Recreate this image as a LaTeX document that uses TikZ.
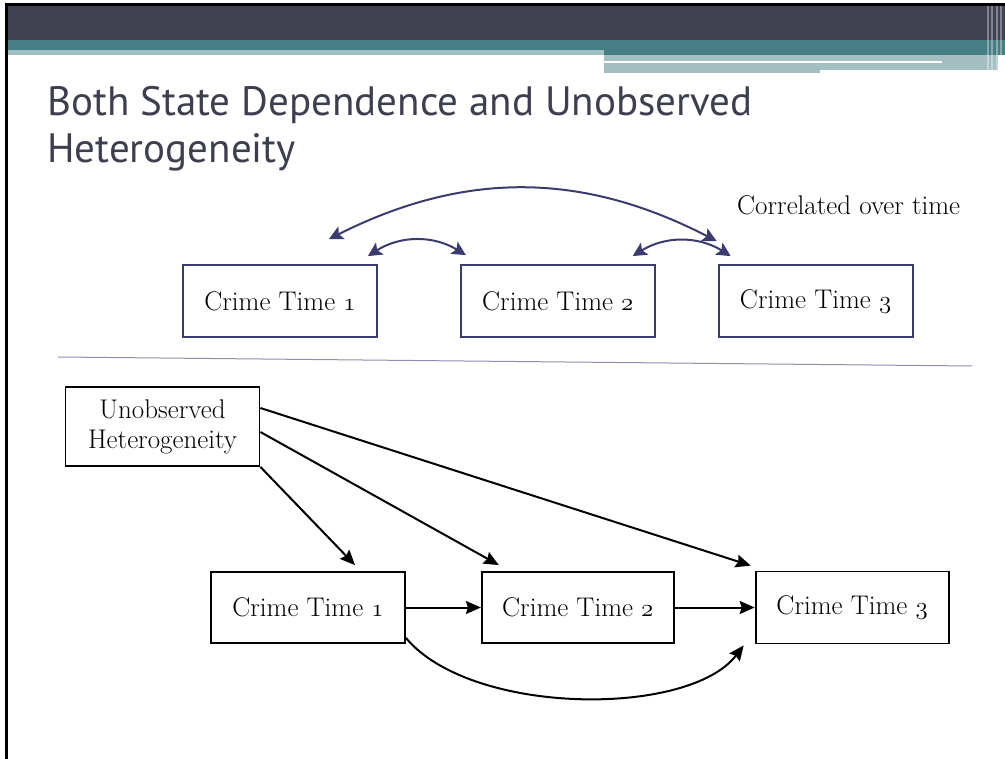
\documentclass[tikz,border=0pt]{standalone}
\usepackage{fontspec}
\newfontfamily\titlefont{PT Sans}
\usetikzlibrary{arrows.meta,positioning}
\definecolor{bandslate}{HTML}{414152}
\definecolor{bandteal}{HTML}{457E84}
\definecolor{bandlight}{HTML}{A3BFC2}
\definecolor{titleslate}{HTML}{3D3F4F}
\definecolor{navy}{HTML}{3B3B6E}
\definecolor{rulelav}{HTML}{8C8CB4}
\newcommand{\osn}[1]{{\usefont{OML}{cmm}{m}{it}#1}}
\tikzset{
  crimebox/.style={draw, line width=1.8pt, minimum width=194pt, minimum height=72pt,
    inner sep=0pt, font=\fontsize{27}{30}\selectfont},
  topbox/.style={crimebox, draw=navy},
  tiearrow/.style={navy, line width=2pt, >={Stealth[length=14pt,width=14pt,inset=3pt]}, <->},
  causearrow/.style={line width=2pt, >={Stealth[length=15pt,width=13pt,inset=2pt]}, ->}
}
\begin{document}
\begin{tikzpicture}[x=1pt,y=-1pt]
\useasboundingbox (0,0) rectangle (1005,759);
% slide header
\fill[bandslate] (6,6) rectangle (1005,40);
\fill[bandteal] (6,40) rectangle (1005,55);
\fill[bandlight] (6,50) rectangle (604,55);
\fill[bandlight] (604,55) rectangle (820,73);
\fill[bandlight] (820,55) rectangle (998,70);
\fill[white] (604,61) rectangle (942,63);
\foreach \x in {988,992,997,1001}
  \draw[white, opacity=.35, line width=1.2pt] (\x,6) -- (\x,72);
\draw[line width=3pt] (6,759) -- (6,4.5) -- (1005,4.5);

\node[anchor=north west, inner sep=0pt, align=left, text=titleslate,
  font=\titlefont\fontsize{41}{47}\selectfont] (title) at (47,86)
  {Both State Dependence and Unobserved\\Heterogeneity};

% correlated over time
\node[anchor=base west, inner sep=0pt, font=\fontsize{27}{30}\selectfont] (corr) at (737,215)
  {Correlated over time};
\node[topbox] (a1) at (280,301) {Crime Time \osn{1}};
\node[topbox, right=82pt of a1] (a2) {Crime Time \osn{2}};
\node[topbox, right=62pt of a2] (a3) {Crime Time \osn{3}};
\draw[tiearrow] ([xshift=-49pt,yshift=25pt]a1.north east) to[bend left=27]
  ([xshift=-1pt,yshift=23pt]a3.north west);
\draw[tiearrow] ([xshift=-10pt,yshift=8pt]a1.north east) to[bend left=32]
  ([xshift=6pt,yshift=9pt]a2.north west);
\draw[tiearrow] ([xshift=-23pt,yshift=8pt]a2.north east) to[bend left=32]
  ([xshift=13pt,yshift=8pt]a3.north west);

\draw[rulelav, line width=1pt] (58,357) -- (972,366);

% state dependence plus heterogeneity
\node[crimebox, minimum height=79pt, align=center] (u) at (162.5,426.5)
  {Unobserved\\Heterogeneity};
\node[crimebox, minimum height=71pt] (b1) at (308,607.5) {Crime Time \osn{1}};
\node[crimebox, minimum width=192pt, minimum height=71pt, right=75pt of b1] (b2)
  {Crime Time \osn{2}};
\node[crimebox, minimum width=193pt, right=80pt of b2] (b3) {Crime Time \osn{3}};
\draw[causearrow] (u.south east) -- ([xshift=47pt,yshift=6pt]b1.north);
\draw[causearrow] ([yshift=-5.5pt]u.east) -- ([xshift=18pt,yshift=6pt]b2.north west);
\draw[causearrow] ([yshift=18.5pt]u.east) -- ([xshift=-4pt,yshift=5pt]b3.north west);
\draw[causearrow] (b1) -- (b2);
\draw[causearrow] (b2) -- (b3);
\draw[causearrow] ([yshift=6pt]b1.south east) .. controls +(65,78) and +(-55,72) ..
  ([xshift=-11pt,yshift=-1pt]b3.south west);
\end{tikzpicture}
\end{document}
